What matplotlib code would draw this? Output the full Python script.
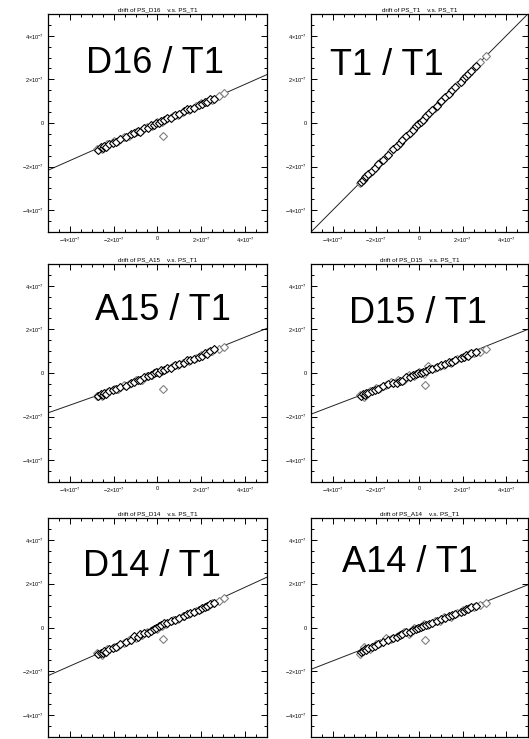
"""
Drift of PS_* vs PS_T1: six scatter panels with fitted lines
"""

import matplotlib
matplotlib.use('Agg')
import matplotlib.pyplot as plt
from matplotlib.ticker import MultipleLocator

# all values in units of 1e-7
x_black = [-2.7, -2.6, -2.5, -2.45, -2.35, -2.2, -2.05, -1.9, -1.7, -1.45, -1.2, -1.05,
           -0.9, -0.8, -0.6, -0.45, -0.3, -0.15, -0.05, 0.05, 0.15, 0.3, 0.45, 0.6,
           0.8, 1.0, 1.2, 1.35, 1.5, 1.65, 1.9, 2.05, 2.15, 2.25, 2.4, 2.6]
x_grey = [-2.75, -2.55, -2.3, -2.0, -1.8, -1.55, -1.3, -1.0, -0.7, -0.5, -0.25, 0.0,
          0.2, 0.4, 0.7, 0.95, 1.15, 1.45, 1.75, 2.0, 2.3, 2.5, 2.8, 3.05, 0.27]

d16_black = [-1.22, -1.10, -1.14, -1.05, -1.08, -0.95, -0.92, -0.86, -0.72, -0.66, -0.50, -0.48,
             -0.36, -0.40, -0.22, -0.24, -0.10, -0.08, 0.02, 0.00, 0.10, 0.14, 0.25, 0.24,
             0.38, 0.42, 0.55, 0.62, 0.66, 0.70, 0.82, 0.86, 0.98, 0.94, 1.08, 1.12]
d16_grey = [-1.18, -1.20, -0.98, -0.84, -0.82, -0.64, -0.58, -0.40, -0.34, -0.18, -0.14, 0.06,
            0.04, 0.20, 0.34, 0.38, 0.50, 0.60, 0.80, 0.90, 1.02, 1.06, 1.22, 1.36, -0.61]

t1_black = x_black
t1_grey = x_grey[:-1] + [0.27]

a15_black = [-1.06, -0.98, -1.00, -0.92, -0.95, -0.84, -0.80, -0.74, -0.64, -0.58, -0.44, -0.42,
             -0.32, -0.34, -0.20, -0.16, -0.10, -0.02, 0.04, 0.02, 0.12, 0.14, 0.24, 0.22,
             0.36, 0.40, 0.48, 0.58, 0.60, 0.66, 0.74, 0.80, 0.92, 0.88, 1.00, 1.08]
a15_grey = [-1.04, -1.06, -0.88, -0.74, -0.72, -0.56, -0.52, -0.34, -0.30, -0.14, -0.08, 0.06,
            0.10, 0.20, 0.30, 0.36, 0.46, 0.56, 0.70, 0.82, 0.94, 1.00, 1.10, 1.20, -0.72]

d15_black = [-1.06, -0.96, -1.00, -0.90, -0.94, -0.82, -0.80, -0.72, -0.62, -0.50, -0.48, -0.44,
             -0.38, -0.36, -0.18, -0.20, -0.08, -0.06, 0.02, 0.00, 0.06, 0.08, 0.20, 0.16,
             0.28, 0.36, 0.42, 0.50, 0.52, 0.60, 0.70, 0.74, 0.84, 0.80, 0.92, 0.96]
d15_grey = [-1.00, -1.08, -0.84, -0.70, -0.70, -0.56, -0.40, -0.32, -0.30, -0.10, -0.12, 0.04,
            -0.06, 0.30, 0.24, 0.30, 0.38, 0.44, 0.62, 0.72, 0.86, 0.90, 0.98, 1.08, -0.57]

d14_black = [-1.22, -1.16, -1.18, -1.08, -1.10, -0.98, -0.94, -0.90, -0.74, -0.66, -0.56, -0.40,
             -0.42, -0.30, -0.26, -0.24, -0.16, -0.06, 0.00, 0.06, 0.12, 0.22, 0.22, 0.30,
             0.36, 0.44, 0.52, 0.60, 0.66, 0.72, 0.80, 0.90, 0.96, 0.98, 1.06, 1.14]
d14_grey = [-1.16, -1.24, -1.00, -0.88, -0.84, -0.72, -0.58, -0.48, -0.36, -0.20, -0.12, -0.08,
            0.08, 0.16, 0.34, 0.40, 0.52, 0.64, 0.74, 0.86, 1.00, 1.12, 1.22, 1.34, -0.54]

a14_black = [-1.12, -1.06, -1.00, -1.02, -0.92, -0.90, -0.84, -0.76, -0.66, -0.58, -0.48, -0.44,
             -0.34, -0.30, -0.22, -0.20, -0.12, -0.06, -0.02, 0.04, 0.08, 0.10, 0.18, 0.22,
             0.28, 0.38, 0.44, 0.52, 0.56, 0.60, 0.70, 0.76, 0.84, 0.86, 0.92, 1.00]
a14_grey = [-1.20, -0.90, -0.98, -0.76, -0.70, -0.50, -0.54, -0.40, -0.20, -0.28, -0.04, 0.00,
            0.14, 0.12, 0.30, 0.32, 0.48, 0.50, 0.66, 0.78, 0.88, 0.94, 1.04, 1.10, -0.59]

# fitted lines
line_x = [-5, -3, -1, 1, 3, 5]
d16_line = [-2.17, -1.28, -0.44, 0.44, 1.33, 2.22]
t1_line = [-5, -3, -1, 1, 3, 5]
a15_line = [-1.83, -1.12, -0.36, 0.44, 1.24, 2.05]
d15_line = [-1.89, -1.13, -0.38, 0.40, 1.20, 2.00]
d14_line = [-2.20, -1.32, -0.45, 0.46, 1.38, 2.30]
a14_line = [-1.91, -1.14, -0.38, 0.38, 1.16, 1.95]

tick_vals = [-4, -2, 0, 2, 4]
tick_labels = [r'$-4{\times}10^{-7}$', r'$-2{\times}10^{-7}$', '0',
               r'$2{\times}10^{-7}$', r'$4{\times}10^{-7}$']

panels = [
    # name, black y, grey y, line y, axes rect, label x, label baseline y
    ('D16', d16_black, d16_grey, d16_line, [0.0907, 0.6861, 0.414, 0.2950], 0.489, 0.73),
    ('T1', t1_black, t1_grey, t1_line, [0.5879, 0.6861, 0.410, 0.2950], 0.35, 0.72),
    ('A15', a15_black, a15_grey, a15_line, [0.0907, 0.3478, 0.414, 0.2950], 0.527, 0.743),
    ('D15', d15_black, d15_grey, d15_line, [0.5879, 0.3478, 0.410, 0.2950], 0.495, 0.731),
    ('D14', d14_black, d14_grey, d14_line, [0.0907, 0.0027, 0.414, 0.2963], 0.475, 0.737),
    ('A14', a14_black, a14_grey, a14_line, [0.5879, 0.0027, 0.410, 0.2963], 0.456, 0.753),
]

plt.rcParams['font.family'] = ['Liberation Sans', 'DejaVu Sans']
plt.rcParams['mathtext.fontset'] = 'custom'
plt.rcParams['mathtext.rm'] = 'Liberation Sans'
plt.rcParams['mathtext.it'] = 'Liberation Sans'

fig = plt.figure(figsize=(5.29, 7.39), dpi=100)

for name, yb, yg, yl, rect, lx, ly in panels:
    ax = fig.add_axes(rect)
    ax.plot(line_x, yl, '-', color='#222222', linewidth=0.7, zorder=1)
    ax.plot(x_grey, yg, 'D', markersize=4.0, markerfacecolor='white',
            markeredgecolor='#808080', markeredgewidth=0.8, zorder=2)
    ax.plot(x_black, yb, 'D', markersize=4.0, markerfacecolor='white',
            markeredgecolor='black', markeredgewidth=0.8, zorder=3)
    ax.set_xlim(-5, 5)
    ax.set_ylim(-5, 5)
    ax.set_xticks(tick_vals)
    ax.set_xticklabels(tick_labels)
    ax.set_yticks(tick_vals)
    ax.set_yticklabels(tick_labels)
    ax.xaxis.set_minor_locator(MultipleLocator(0.5))
    ax.yaxis.set_minor_locator(MultipleLocator(0.5))
    ax.tick_params(which='both', direction='in', top=True, right=True,
                   labelsize=4, width=0.7, pad=3)
    ax.tick_params(which='major', length=4)
    ax.tick_params(which='minor', length=2)
    for sp in ax.spines.values():
        sp.set_linewidth(0.9)
    ax.set_title(f'drift of PS_{name}    v.s. PS_T1', fontsize=4.5, pad=2)
    ax.text(lx, ly, f'{name} / T1', transform=ax.transAxes, fontsize=26,
            ha='center', va='baseline')

fig.savefig('out.png', dpi=100)
